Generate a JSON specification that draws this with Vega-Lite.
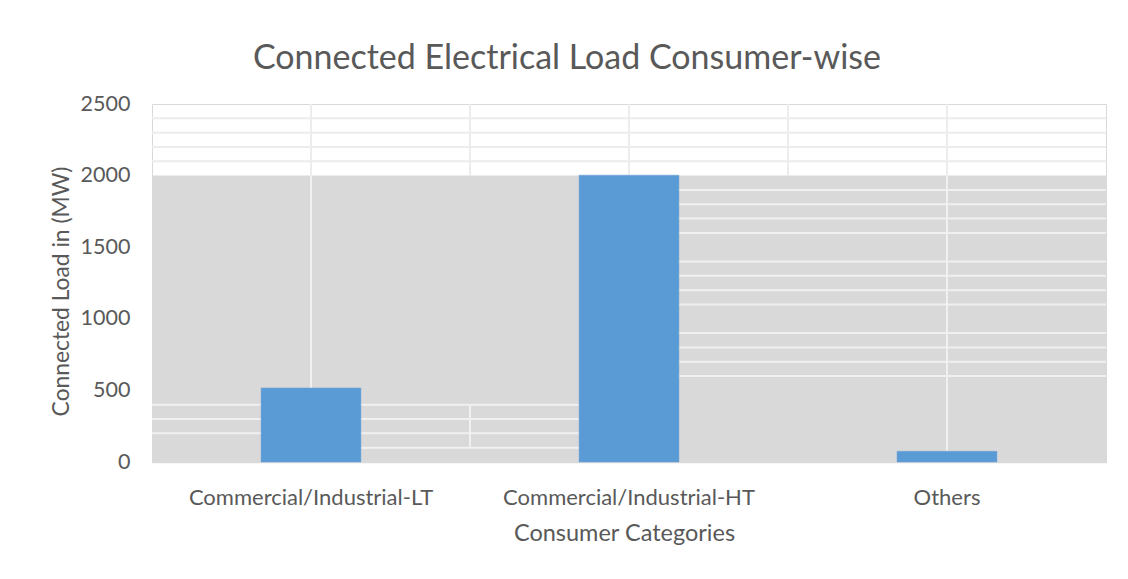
{
  "$schema": "https://vega.github.io/schema/vega-lite/v6.json",
  "autosize": {"type": "none"},
  "width": 954,
  "height": 358,
  "padding": {"left": 152, "top": 104, "right": 22, "bottom": 117},
  "background": "white",
  "config": {
    "view": {"stroke": "#d9d9d9", "strokeWidth": 1},
    "font": "Lato"
  },
  "title": {
    "text": "Connected Electrical Load Consumer-wise",
    "fontSize": 34,
    "fontWeight": "normal",
    "font": "Lato",
    "color": "#595959",
    "anchor": "middle",
    "frame": "group",
    "dx": -62,
    "offset": 17
  },
  "datasets": {
    "hlines": [
      {"y": 2100, "x0": 0, "x1": 6, "zone": "top"},
      {"y": 2200, "x0": 0, "x1": 6, "zone": "top"},
      {"y": 2300, "x0": 0, "x1": 6, "zone": "top"},
      {"y": 2400, "x0": 0, "x1": 6, "zone": "top"},
      {"y": 1900, "x0": 3.314, "x1": 6, "zone": "gray"},
      {"y": 1800, "x0": 3.314, "x1": 6, "zone": "gray"},
      {"y": 1700, "x0": 3.314, "x1": 6, "zone": "gray"},
      {"y": 1600, "x0": 3.314, "x1": 6, "zone": "gray"},
      {"y": 1400, "x0": 3.314, "x1": 6, "zone": "gray"},
      {"y": 1300, "x0": 3.314, "x1": 6, "zone": "gray"},
      {"y": 1200, "x0": 3.314, "x1": 6, "zone": "gray"},
      {"y": 1100, "x0": 3.314, "x1": 6, "zone": "gray"},
      {"y": 900, "x0": 3.314, "x1": 6, "zone": "gray"},
      {"y": 800, "x0": 3.314, "x1": 6, "zone": "gray"},
      {"y": 700, "x0": 3.314, "x1": 6, "zone": "gray"},
      {"y": 600, "x0": 3.314, "x1": 6, "zone": "gray"},
      {"y": 400, "x0": 0, "x1": 2.686, "zone": "gray"},
      {"y": 300, "x0": 0, "x1": 2.686, "zone": "gray"},
      {"y": 200, "x0": 0, "x1": 2.686, "zone": "gray"},
      {"y": 100, "x0": 1.314, "x1": 2.686, "zone": "gray"}
    ],
    "vlines": [
      {"x": 1, "y0": 2000, "y1": 2500, "zone": "top"},
      {"x": 2, "y0": 2000, "y1": 2500, "zone": "top"},
      {"x": 3, "y0": 2000, "y1": 2500, "zone": "top"},
      {"x": 4, "y0": 2000, "y1": 2500, "zone": "top"},
      {"x": 5, "y0": 2000, "y1": 2500, "zone": "top"},
      {"x": 1, "y0": 517, "y1": 2000, "zone": "gray"},
      {"x": 5, "y0": 75, "y1": 2000, "zone": "gray"},
      {"x": 2, "y0": 100, "y1": 400, "zone": "gray"}
    ],
    "loads": [
      {"category": "Commercial/Industrial-LT", "load": 517},
      {"category": "Commercial/Industrial-HT", "load": 2003},
      {"category": "Others", "load": 75}
    ]
  },
  "layer": [
    {
      "data": {"values": [{"lo": 0, "hi": 2000}]},
      "mark": {"type": "rect", "color": "#d9d9d9"},
      "encoding": {
        "y": {"field": "lo", "type": "quantitative", "scale": {"domain": [0, 2500], "nice": false}},
        "y2": {"field": "hi"}
      }
    },
    {
      "data": {"name": "hlines"},
      "mark": {"type": "rule", "strokeWidth": 2},
      "encoding": {
        "y": {"field": "y", "type": "quantitative"},
        "x": {"field": "x0", "type": "quantitative", "scale": {"domain": [0, 6], "nice": false, "zero": false}, "axis": null},
        "x2": {"field": "x1"},
        "color": {"field": "zone", "type": "nominal", "scale": {"domain": ["top", "gray"], "range": ["#ececec", "#f0f0f0"]}, "legend": null}
      }
    },
    {
      "data": {"name": "vlines"},
      "mark": {"type": "rule", "strokeWidth": 2},
      "encoding": {
        "x": {"field": "x", "type": "quantitative", "scale": {"domain": [0, 6], "nice": false, "zero": false}, "axis": null},
        "y": {"field": "y0", "type": "quantitative"},
        "y2": {"field": "y1"},
        "color": {"field": "zone", "type": "nominal", "scale": {"domain": ["top", "gray"], "range": ["#ececec", "#f0f0f0"]}, "legend": null}
      }
    },
    {
      "data": {"name": "loads"},
      "mark": {"type": "bar", "color": "#5b9bd5", "stroke": "#6fa3d6", "strokeWidth": 0.5},
      "encoding": {
        "x": {
          "field": "category",
          "type": "nominal",
          "sort": null,
          "scale": {"paddingInner": 0.686, "paddingOuter": 0.343},
          "axis": {
            "title": "Consumer Categories",
            "titleFont": "Lato",
            "titleFontSize": 23.5,
            "titleFontWeight": "normal",
            "titleColor": "#595959",
            "titlePadding": 13,
            "titleX": 472,
            "labelAngle": 0,
            "labelFont": "Lato",
            "labelFontSize": 22,
            "labelColor": "#595959",
            "labelPadding": 25,
            "labelLimit": 0,
            "ticks": false,
            "domain": true,
            "domainColor": "#d9d9d9",
            "domainWidth": 1.5
          }
        },
        "y": {
          "field": "load",
          "type": "quantitative",
          "scale": {"domain": [0, 2500], "nice": false},
          "axis": {
            "title": "Connected Load in (MW)",
            "titleFont": "Lato",
            "titleFontSize": 22.8,
            "titleFontWeight": "normal",
            "titleColor": "#595959",
            "titlePadding": 7,
            "titleY": 187,
            "values": [0, 500, 1000, 1500, 2000, 2500],
            "format": "d",
            "labelFont": "Lato",
            "labelFontSize": 21.5,
            "labelColor": "#595959",
            "labelPadding": 22,
            "ticks": false,
            "domain": false,
            "grid": false
          }
        }
      }
    }
  ],
  "resolve": {"scale": {"x": "independent"}}
}
